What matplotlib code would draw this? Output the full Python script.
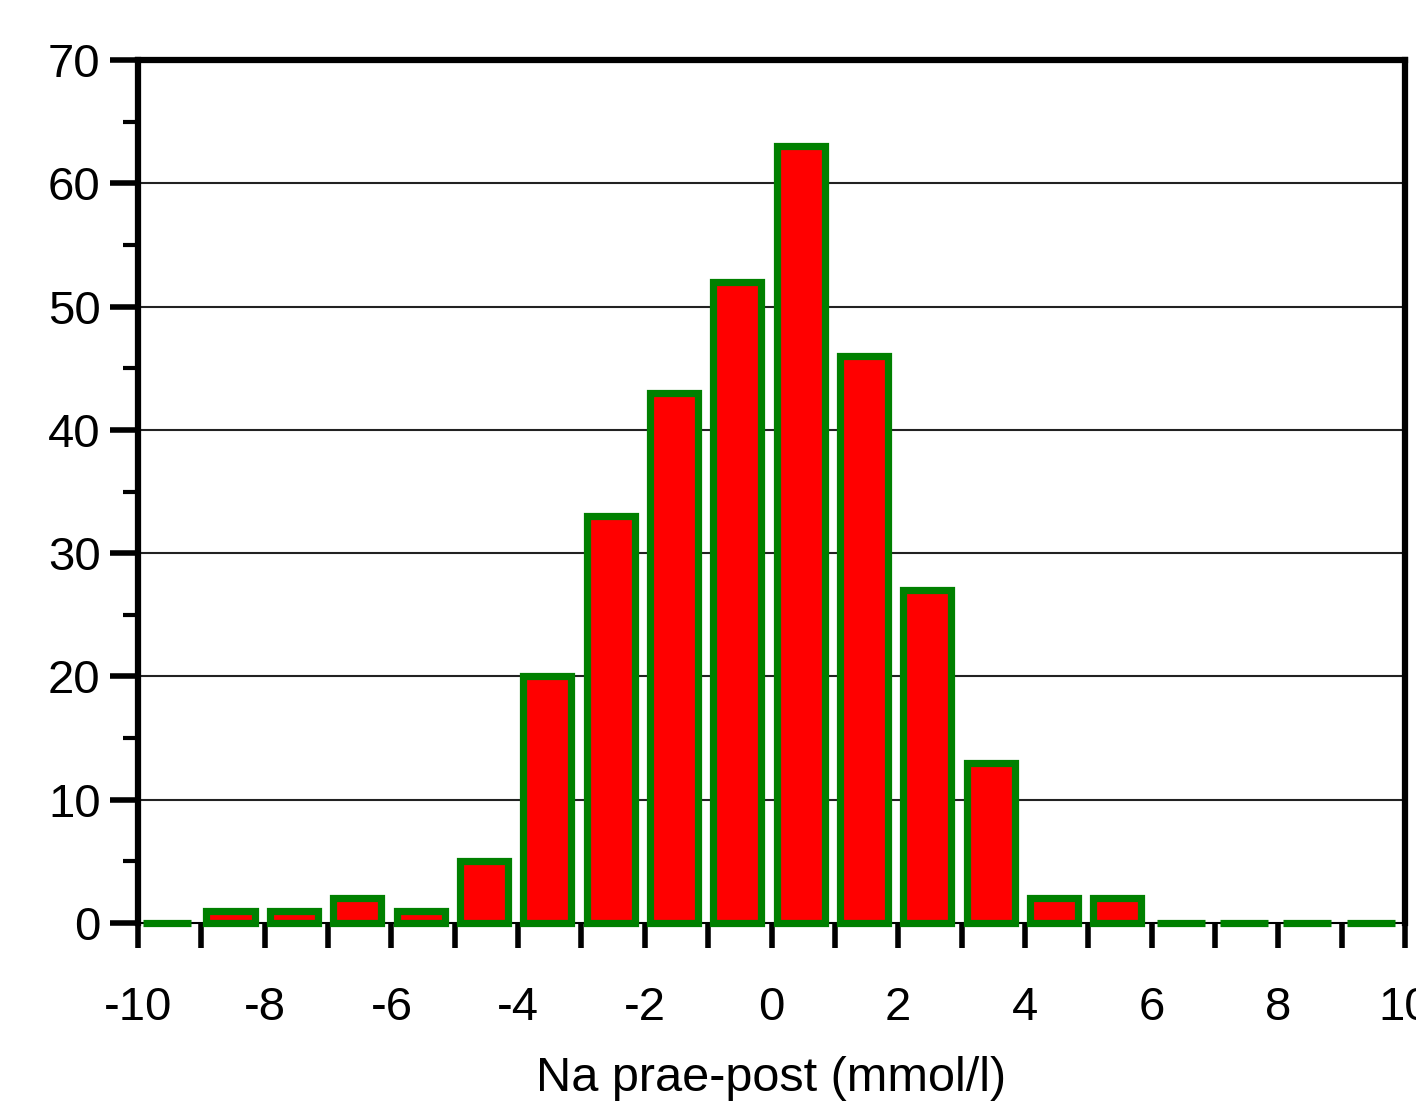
import numpy as np
import matplotlib.pyplot as plt
from matplotlib.ticker import MultipleLocator

plt.rcParams['font.family'] = ['Liberation Sans', 'DejaVu Sans']

# Histogram data: bin left edges (width 1) and counts
bin_left = np.arange(-10, 10)
counts = [0, 1, 1, 2, 1, 5, 20, 33, 43, 52, 63, 46, 27, 13, 2, 2, 0, 0, 0, 0]
x_ticks = np.arange(-10, 11)
x_labels = [str(v) if v % 2 == 0 else '' for v in x_ticks]
y_ticks = np.arange(0, 71, 10)

fig = plt.figure(figsize=(14.16, 11.05), dpi=100)
ax = fig.add_axes([0.0975, 0.1647, 0.8947, 0.781])

# Grid lines
for y in y_ticks[1:-1]:
    ax.axhline(y, color='#222222', linewidth=1.5, zorder=1)

# Bars
ax.bar(bin_left + 0.08, counts, width=0.76, align='edge', color='#ff0000',
       edgecolor='#008000', linewidth=5.2, zorder=3, clip_on=False)

ax.set_xlim(-10, 10)
ax.set_ylim(0, 70)

# Spines
for side in ['left', 'top', 'right']:
    ax.spines[side].set_linewidth(4.5)
ax.spines['bottom'].set_linewidth(1.5)

# Ticks
ax.set_xticks(x_ticks)
ax.set_xticklabels(x_labels)
ax.set_yticks(y_ticks)
ax.yaxis.set_minor_locator(MultipleLocator(5))
ax.tick_params(axis='x', direction='out', length=18, width=4, pad=27,
               labelsize=34)
ax.tick_params(axis='y', which='major', direction='out', length=20, width=4,
               pad=7, labelsize=34)
ax.tick_params(axis='y', which='minor', direction='out', length=11, width=3)

ax.set_xlabel('Na prae-post (mmol/l)', fontsize=35, labelpad=19)

fig.savefig('out.png', dpi=100)
